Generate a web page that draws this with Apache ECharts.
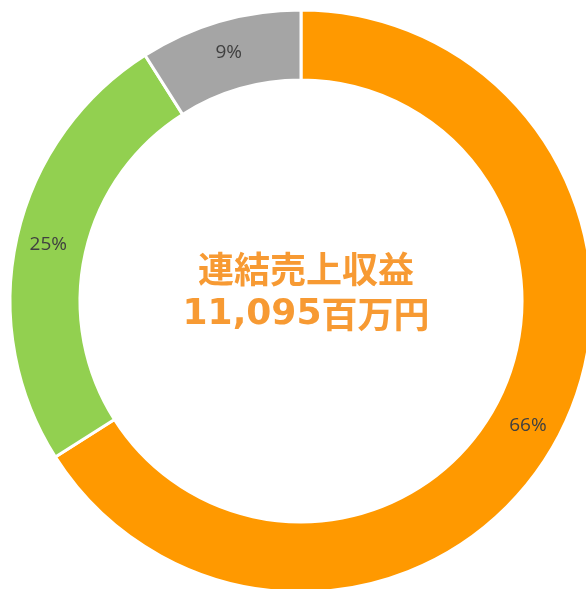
<!DOCTYPE html>
<html>
<head>
<meta charset="utf-8">
<script src="https://cdn.jsdelivr.net/npm/echarts@6/dist/echarts.min.js"></script>
<style>
html, body { margin: 0; padding: 0; background: #fff; }
#chartsdiv { width: 586px; height: 589px; }
</style>
</head>
<body>
<div id="chartsdiv"></div>
<script>
// 区分と構成比
var segments = ['A', 'B', 'C'];
var shares = [66, 25, 9];
var colors = ['#FF9900', '#92D050', '#A5A5A5'];
var centerTitle = '連結売上収益';
var centerAmount = '11,095';
var centerUnit = '百万円';

var myChart = echarts.init(document.getElementById('chartsdiv'));
var data = [];
segments.forEach(function (name, i) {
    data.push({ name: name, value: shares[i], itemStyle: { color: colors[i] } });
});

var option = {
    animation: false,
    title: {
        text: '{cjk|' + centerTitle + '}\n{num|' + centerAmount + '}{cjk|' + centerUnit + '}',
        left: 301,
        top: 242,
        textAlign: 'center',
        textStyle: {
            rich: {
                cjk: {
                    color: '#F79A33',
                    fontSize: 36,
                    fontWeight: 'bold',
                    lineHeight: 45,
                    fontFamily: '"Noto Sans CJK JP", sans-serif'
                },
                num: {
                    color: '#F79A33',
                    fontSize: 36,
                    fontWeight: 'bold',
                    lineHeight: 45,
                    fontFamily: '"DejaVu Sans", sans-serif'
                }
            }
        }
    },
    series: [
        {
            type: 'pie',
            center: [301, 301],
            radius: [221, 291],
            startAngle: 90,
            clockwise: true,
            itemStyle: { borderColor: '#fff', borderWidth: 3 },
            label: {
                position: 'inside',
                formatter: '{d}%',
                color: '#404040',
                fontSize: 19,
                fontFamily: '"Open Sans", sans-serif'
            },
            labelLine: { show: false },
            emphasis: { disabled: true },
            data: data
        }
    ]
};
myChart.setOption(option);
</script>
</body>
</html>
